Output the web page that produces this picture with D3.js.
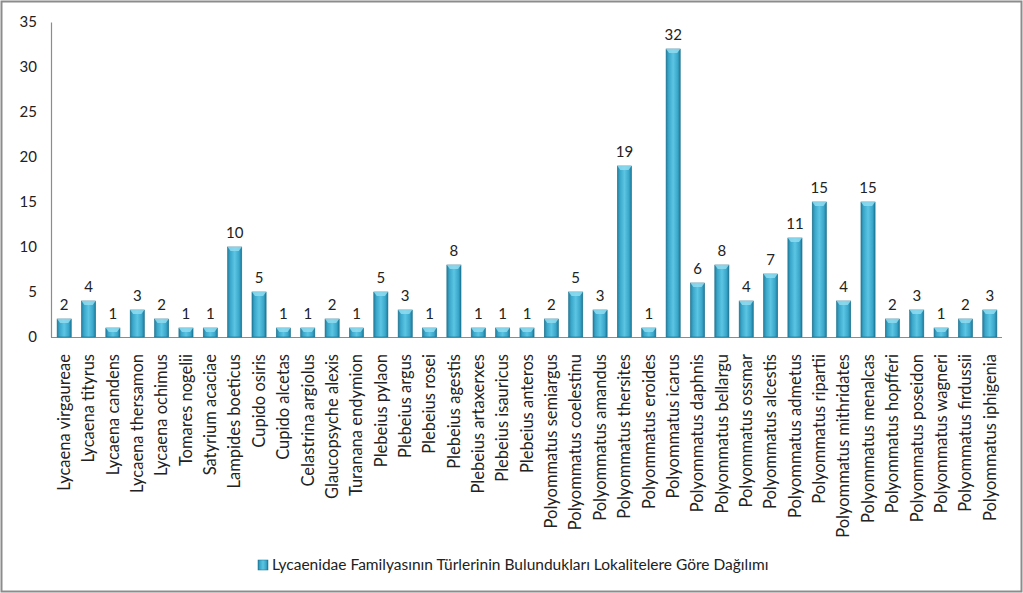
<!DOCTYPE html>
<html><head><meta charset="utf-8">
<script src="https://cdn.jsdelivr.net/npm/d3@7"></script>
<style>
html,body{margin:0;padding:0;background:#fff;}
svg{display:block;font-family:Lato,"Open Sans",sans-serif;}
</style></head>
<body>
<svg id="c" width="1023" height="593"></svg>
<script>
const categories = ["Lycaena virgaureae","Lycaena tityrus","Lycaena candens","Lycaena thersamon","Lycaena ochimus","Tomares nogelii","Satyrium acaciae","Lampides boeticus","Cupido osiris","Cupido alcetas","Celastrina argiolus","Glaucopsyche alexis","Turanana endymion","Plebeius pylaon","Plebeius argus","Plebeius rosei","Plebeius agestis","Plebeius artaxerxes","Plebeius isauricus","Plebeius anteros","Polyommatus semiargus","Polyommatus coelestinu","Polyommatus amandus","Polyommatus thersites","Polyommatus eroides","Polyommatus icarus","Polyommatus daphnis","Polyommatus bellargu","Polyommatus ossmar","Polyommatus alcestis","Polyommatus admetus","Polyommatus ripartii","Polyommatus mithridates","Polyommatus menalcas","Polyommatus hopfferi","Polyommatus poseidon","Polyommatus wagneri","Polyommatus firdussii","Polyommatus iphigenia"];
const values = [2,4,1,3,2,1,1,10,5,1,1,2,1,5,3,1,8,1,1,1,2,5,3,19,1,32,6,8,4,7,11,15,4,15,2,3,1,2,3];
const yTicks = [0,5,10,15,20,25,30,35];
const seriesName = "Lycaenidae Familyasının Türlerinin Bulundukları Lokalitelere Göre Dağılımı";

const svg = d3.select("#c");
const W = 1023, H = 593;

// outer border
svg.append("rect").attr("x",1.5).attr("y",1.5).attr("width",W-3).attr("height",H-3)
  .attr("fill","#fff").attr("stroke","#8c8c8c").attr("stroke-width",2);

const defs = svg.append("defs");
const g1 = defs.append("linearGradient").attr("id","barH").attr("x1","0").attr("x2","1").attr("y1","0").attr("y2","0");
[["0%","#237f9f"],["18%","#3aa6c9"],["50%","#5cc5e4"],["82%","#3aa6c9"],["100%","#1d7898"]]
  .forEach(([o,c])=>g1.append("stop").attr("offset",o).attr("stop-color",c));

const x = d3.scaleBand().domain(categories).range([52,1002]).paddingInner(0.42).paddingOuter(0.21);
const y = d3.scaleLinear().domain([0,35]).range([337,22]);

// y axis
const yAxis = d3.axisLeft(y).tickValues(yTicks).tickSize(0).tickPadding(14);
const ya = svg.append("g").attr("transform","translate(51,0)").call(yAxis);
ya.select(".domain").attr("stroke","#8c8c8c").attr("stroke-width",1.2);
ya.selectAll("text").attr("font-size",15).attr("fill","#222").attr("font-family","Lato,sans-serif");

// x axis baseline
const xAxis = d3.axisBottom(x).tickSize(0).tickPadding(0);
const xa = svg.append("g").attr("transform","translate(0,337)").call(xAxis);
xa.select(".domain").attr("stroke","#8c8c8c").attr("stroke-width",1.2).attr("d","M51,0.5H1002");
xa.selectAll("text")
  .attr("font-size",16.5).attr("fill","#222").attr("font-family","Lato,sans-serif")
  .attr("transform","rotate(-90)")
  .attr("text-anchor","end").attr("x",-17).attr("y",0).attr("dy","0.35em");

// bars
const bars = svg.append("g");
const bw = x.bandwidth();
categories.forEach((c,i)=>{
  const v = values[i];
  const bx = x(c), by = y(v), bh = y(0)-y(v);
  bars.append("rect").attr("x",bx).attr("y",by).attr("width",bw).attr("height",bh)
    .attr("fill","url(#barH)").attr("stroke","#1b6f8c").attr("stroke-width",0.6);
  // top bevel
  const bev = Math.min(4, bh/2);
  bars.append("path")
    .attr("d",`M${bx},${by}L${bx+bw},${by}L${bx+bw-3},${by+bev}L${bx+3},${by+bev}Z`)
    .attr("fill","#8fdcf0").attr("opacity",0.85);
  bars.append("text").attr("x",bx+bw/2).attr("y",by-9)
    .attr("text-anchor","middle").attr("font-size",15).attr("fill","#222")
    .text(v);
});

// legend
const lg = svg.append("g");
lg.append("text").attr("x",272).attr("y",570).attr("font-size",15.5).attr("fill","#222").text(seriesName);
lg.append("rect").attr("x",258).attr("y",560).attr("width",10).attr("height",10)
  .attr("fill","url(#barH)").attr("stroke","#1b6f8c").attr("stroke-width",0.5);
</script>
</body></html>
